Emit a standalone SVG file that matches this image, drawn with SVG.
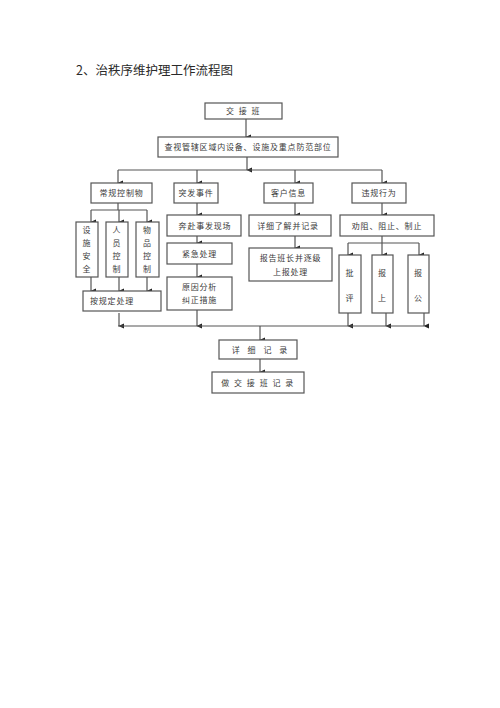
<svg xmlns="http://www.w3.org/2000/svg" width="500" height="708" viewBox="0 0 500 708">
<style>
.b{fill:#fff;stroke:#555;stroke-width:1.2}
.t{font-family:"Noto Sans CJK SC","Noto Sans",sans-serif;font-size:8px;fill:#3a3a3a;text-anchor:middle;letter-spacing:0.8px}
.l{fill:none;stroke:#555;stroke-width:1.2}
.title{font-family:"Noto Sans CJK SC","Noto Sans",sans-serif;font-size:12.5px;fill:#2a2a2a}
</style>
<defs>
<marker id="a" markerWidth="6" markerHeight="6" refX="3" refY="5" orient="auto-start-reverse" markerUnits="userSpaceOnUse" viewBox="0 0 6 6">
<path d="M0.5,0 L5.5,0 L3,5.5 Z" fill="#222"/>
</marker>
</defs>
<rect width="500" height="708" fill="#fff"/>
<text class="title" x="76" y="75">2、治秩序维护理工作流程图</text>

<g id="connectors">
<line class="l" x1="246" y1="119" x2="246" y2="137" marker-end="url(#a)"/>
<line class="l" x1="247" y1="157" x2="247" y2="170" marker-end="url(#a)"/>
<line class="l" x1="118" y1="170" x2="382" y2="170"/>
<line class="l" x1="118" y1="170" x2="118" y2="183" marker-end="url(#a)"/>
<line class="l" x1="197" y1="170" x2="197" y2="183" marker-end="url(#a)"/>
<line class="l" x1="295" y1="170" x2="295" y2="183" marker-end="url(#a)"/>
<line class="l" x1="382" y1="170" x2="382" y2="183" marker-end="url(#a)"/>
<line class="l" x1="118" y1="203" x2="118" y2="210"/>
<line class="l" x1="91" y1="210" x2="147" y2="210"/>
<line class="l" x1="91" y1="210" x2="91" y2="222" marker-end="url(#a)"/>
<line class="l" x1="119" y1="210" x2="119" y2="222" marker-end="url(#a)"/>
<line class="l" x1="147" y1="210" x2="147" y2="222" marker-end="url(#a)"/>
<line class="l" x1="91" y1="277" x2="91" y2="291" marker-end="url(#a)"/>
<line class="l" x1="119" y1="277" x2="119" y2="291" marker-end="url(#a)"/>
<line class="l" x1="147" y1="277" x2="147" y2="291" marker-end="url(#a)"/>
<line class="l" x1="119" y1="313" x2="119" y2="326" marker-end="url(#a)"/>
<line class="l" x1="197" y1="203" x2="197" y2="215" marker-end="url(#a)"/>
<line class="l" x1="197" y1="236" x2="197" y2="243" marker-end="url(#a)"/>
<line class="l" x1="197" y1="264" x2="197" y2="277" marker-end="url(#a)"/>
<line class="l" x1="197" y1="310" x2="197" y2="326" marker-end="url(#a)"/>
<line class="l" x1="295" y1="203" x2="295" y2="215" marker-end="url(#a)"/>
<line class="l" x1="295" y1="236" x2="295" y2="248" marker-end="url(#a)"/>
<line class="l" x1="382" y1="203" x2="382" y2="215" marker-end="url(#a)"/>
<line class="l" x1="382" y1="236" x2="382" y2="243"/>
<line class="l" x1="348" y1="243" x2="419" y2="243"/>
<line class="l" x1="348" y1="243" x2="348" y2="255" marker-end="url(#a)"/>
<line class="l" x1="382" y1="243" x2="382" y2="255" marker-end="url(#a)"/>
<line class="l" x1="419" y1="243" x2="419" y2="255" marker-end="url(#a)"/>
<line class="l" x1="348" y1="313" x2="348" y2="326" marker-end="url(#a)"/>
<line class="l" x1="386" y1="313" x2="386" y2="326" marker-end="url(#a)"/>
<line class="l" x1="424" y1="313" x2="424" y2="326" marker-end="url(#a)"/>
<line class="l" x1="118" y1="326" x2="424" y2="326"/>
<line class="l" x1="260" y1="326" x2="260" y2="340" marker-end="url(#a)"/>
<line class="l" x1="260" y1="359" x2="260" y2="372" marker-end="url(#a)"/>
</g>

<g id="n1"><rect class="b" x="205" y="103" width="77" height="16"/><text class="t" x="243.5" y="114" style="letter-spacing:1.5px">交 接 班</text></g>
<g id="n2"><rect class="b" x="158" y="137" width="180" height="20"/><text class="t" x="248" y="150">查视管辖区域内设备、设施及重点防范部位</text></g>

<g id="n3"><rect class="b" x="91" y="183" width="61" height="20"/><text class="t" x="121.5" y="196">常规控制物</text></g>
<g id="n4"><rect class="b" x="174" y="183" width="44" height="20"/><text class="t" x="196" y="196">突发事件</text></g>
<g id="n5"><rect class="b" x="264" y="183" width="49" height="20"/><text class="t" x="288.5" y="196">客户信息</text></g>
<g id="n6"><rect class="b" x="352" y="183" width="54" height="20"/><text class="t" x="379" y="196">违规行为</text></g>

<g id="n7"><rect class="b" x="76" y="222" width="22" height="55"/><text class="t"><tspan x="87" y="233">设</tspan><tspan x="87" y="246">施</tspan><tspan x="87" y="259">安</tspan><tspan x="87" y="272">全</tspan></text></g>
<g id="n8"><rect class="b" x="106" y="222" width="22" height="55"/><text class="t"><tspan x="117" y="233">人</tspan><tspan x="117" y="246">员</tspan><tspan x="117" y="259">控</tspan><tspan x="117" y="272">制</tspan></text></g>
<g id="n9"><rect class="b" x="136" y="222" width="23" height="55"/><text class="t"><tspan x="147.5" y="233">物</tspan><tspan x="147.5" y="246">品</tspan><tspan x="147.5" y="259">控</tspan><tspan x="147.5" y="272">制</tspan></text></g>
<g id="n10"><rect class="b" x="83" y="291" width="78" height="20"/><text class="t" x="90" y="304" style="text-anchor:start">按规定处理</text></g>

<g id="n11"><rect class="b" x="167" y="215" width="74" height="21"/><text class="t" x="205" y="228.5">奔赴事发现场</text></g>
<g id="n12"><rect class="b" x="167" y="243" width="65" height="21"/><text class="t" x="199.5" y="256.5">紧急处理</text></g>
<g id="n13"><rect class="b" x="167" y="277" width="65" height="33"/><text class="t" x="199.5" y="290">原因分析</text><text class="t" x="199.5" y="303">纠正措施</text></g>

<g id="n14"><rect class="b" x="249" y="215" width="82" height="21"/><text class="t" x="288" y="228.5">详细了解并记录</text></g>
<g id="n15"><rect class="b" x="249" y="248" width="83" height="33"/><text class="t" x="290.5" y="261">报告班长并逐级</text><text class="t" x="290.5" y="275">上报处理</text></g>

<g id="n16"><rect class="b" x="340" y="215" width="94" height="21"/><text class="t" x="387" y="228.5">劝阻、阻止、制止</text></g>
<g id="n17"><rect class="b" x="339" y="255" width="22" height="58"/><text class="t" x="350" y="276">批</text><text class="t" x="350" y="301">评</text></g>
<g id="n18"><rect class="b" x="372" y="255" width="21" height="58"/><text class="t" x="382.5" y="276">报</text><text class="t" x="382.5" y="301">上</text></g>
<g id="n19"><rect class="b" x="408" y="255" width="21" height="58"/><text class="t" x="418.5" y="276">报</text><text class="t" x="418.5" y="301">公</text></g>

<g id="n20"><rect class="b" x="219" y="340" width="78" height="19"/><text class="t" x="261" y="352.5" style="letter-spacing:3px">详 细 记 录</text></g>
<g id="n21"><rect class="b" x="212" y="372" width="92" height="21"/><text class="t" x="258" y="385.5" style="letter-spacing:1.5px">做 交 接 班 记 录</text></g>
</svg>
